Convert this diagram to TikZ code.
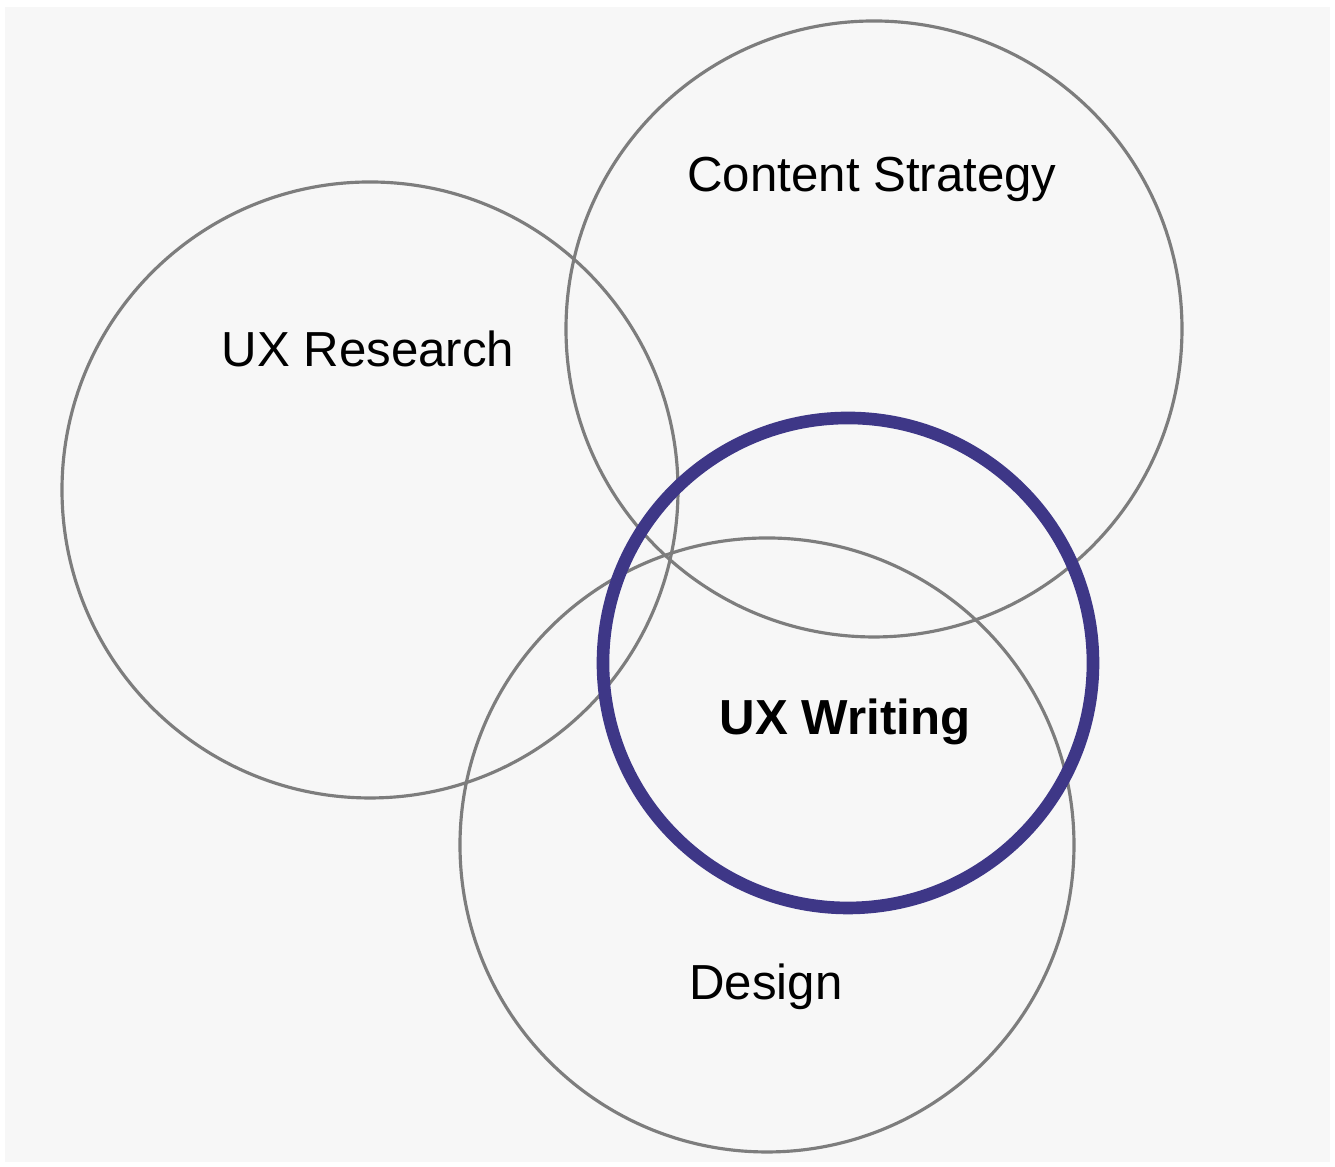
\documentclass[tikz,border=0pt]{standalone}
\usepackage{fontspec}
\setmainfont{Liberation Sans}
\definecolor{ringgray}{RGB}{125,125,125}
\definecolor{writeblue}{RGB}{62,55,135}
\definecolor{paper}{RGB}{247,247,247}

\begin{document}
\begin{tikzpicture}[
  field/.style={circle, draw=ringgray, line width=0.9pt, inner sep=0pt},
  lbl/.style={font=\fontsize{14}{16}\selectfont, text=black}
]
\useasboundingbox (0,0) rectangle (13.35,11.67);
\fill[paper] (0.05,0.05) rectangle (13.30,11.60);

\coordinate (R) at (3.70,6.77);
\coordinate (C) at (8.74,8.38);
\coordinate (D) at (7.67,3.22);
\coordinate (W) at (8.48,5.04);

\node[field, minimum size=6.16cm] (research) at (R) {};
\node[field, minimum size=6.16cm] (content) at (C) {};
\node[field, minimum size=6.14cm] (design) at (D) {};
\node[circle, draw=writeblue, line width=3.6pt, inner sep=0pt, minimum size=4.90cm] (writing) at (W) {};

\node[lbl] (contentlbl) at (8.72,9.88) {Content Strategy};
\node[lbl] (researchlbl) at (3.68,8.18) {UX Research};
\node[lbl, font=\fontsize{14}{16}\selectfont\bfseries] (writinglbl) at (8.45,4.45) {UX Writing};
\node[lbl] (designlbl) at (7.66,1.80) {Design};
\end{tikzpicture}
\end{document}
